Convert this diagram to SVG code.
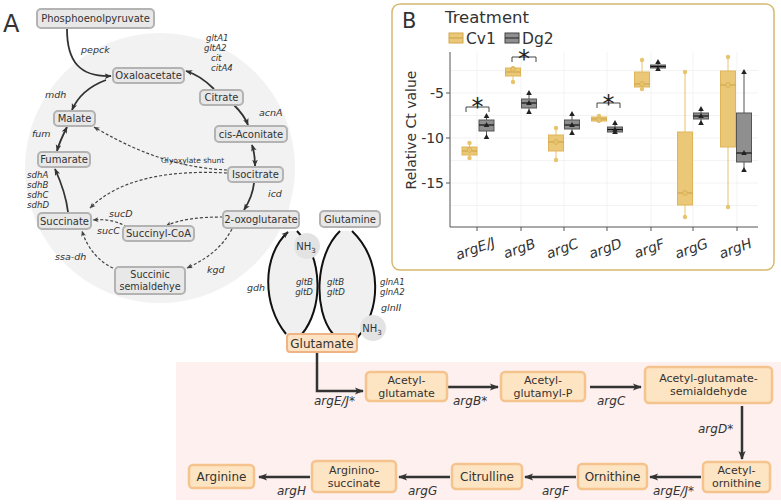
<svg xmlns="http://www.w3.org/2000/svg" width="781" height="504" viewBox="0 0 781 504">
<style>
text{font-family:"DejaVu Sans","Liberation Sans",sans-serif;fill:#333}
.gn rect{fill:#e8e8e8;stroke:#b3b3b3;stroke-width:2}
.gn text{font-size:10px;text-anchor:middle}
.on rect{fill:#fde4c2;stroke:#f5c48e;stroke-width:2.5}
.on text{font-size:12px;text-anchor:middle}
.on text.two{font-size:11px}
.lab{font-size:9.5px;font-style:italic}
.stk{font-size:8.6px;font-style:italic}
.plab{font-size:12px;font-style:italic}
.sol{fill:none;stroke:#333;stroke-width:1.8;marker-end:url(#ah)}
.dsh{fill:none;stroke:#444;stroke-width:1.2;stroke-dasharray:3 2;marker-end:url(#ahs)}
.arc{fill:none;stroke:#111;stroke-width:2}
.pw{fill:none;stroke:#333;stroke-width:2.5;marker-end:url(#ahl)}
.nh text{font-size:10px;text-anchor:middle}
.grid{stroke:#eeeeee;stroke-width:0.7}
.cvw{stroke:#e8c46c;stroke-width:1}
.cvb{fill:#eac878;stroke:#dfb55a;stroke-width:1}
.cvm{stroke:#c9a048;stroke-width:1}
.cvp{fill:#e8c46c}
.dgw{stroke:#555;stroke-width:1}
.dgb{fill:#8f8f8f;stroke:#555;stroke-width:1}
.dgm{stroke:#111;stroke-width:1.2}
.dgp{fill:#222}
.tick{font-size:14px;text-anchor:end}
.xl{font-size:14px;font-style:italic;text-anchor:middle}
.br{fill:none;stroke:#444;stroke-width:1}
.star{font-size:24px;text-anchor:middle;fill:#222}
</style>
<defs>
<marker id="ah" viewBox="0 0 10 10" refX="9" refY="5" markerWidth="7" markerHeight="7" orient="auto-start-reverse" markerUnits="userSpaceOnUse"><path d="M0,1 L10,5 L0,9 L2.5,5 z" fill="#333"/></marker>
<marker id="ahs" viewBox="0 0 10 10" refX="9" refY="5" markerWidth="6" markerHeight="6" orient="auto" markerUnits="userSpaceOnUse"><path d="M0,1 L10,5 L0,9 L2.5,5 z" fill="#444"/></marker>
<marker id="ahl" viewBox="0 0 10 10" refX="9" refY="5" markerWidth="10" markerHeight="9" orient="auto" markerUnits="userSpaceOnUse"><path d="M0,1 L10,5 L0,9 L2.5,5 z" fill="#333"/></marker>
<path id="tri" d="M0,-3 L2.8,2 L-2.8,2 z"/>
</defs>

<!-- Panel A background -->
<circle cx="160" cy="168" r="135" fill="#f2f2f2"/>
<rect x="176" y="362" width="605" height="138" fill="#fdf0ee"/>
<path d="M286,334 C262,305 262,255 288,231 L297,231 C325,260 322,310 302,334 Z" fill="#f0f0f0"/>
<path d="M333,334 C313,310 315,255 340,231 L352,231 C382,260 382,310 357,338 Z" fill="#f0f0f0"/>
<text x="3" y="32" font-size="24" fill="#111">A</text>

<g id="connectors">
<path class="sol" d="M67,29 C67,62 80,77 111,76"/>
<path class="sol" d="M106,80 C90,86 78,96 72,110"/>
<path class="sol" d="M214,89 C205,80 196,74 186,71"/>
<path class="sol" d="M234,105 C240,111 245,117 248,125"/>
<path class="sol" d="M252,145 C254,151 255,158 255,166" marker-start="url(#ah)"/>
<path class="sol" d="M254,183 C253,193 249,202 244,210"/>
<path class="sol" d="M57,151 C59,143 63,135 67,127" marker-start="url(#ah)"/>
<path class="sol" d="M68,212 C66,195 60,180 55,169"/>
<path class="dsh" d="M227,170 C190,168 150,160 94,127"/>
<path class="dsh" d="M227,173 C170,170 120,178 90,208"/>
<path class="dsh" d="M223,217 C200,217 180,219 166,226" marker-end="none"/>
<path class="dsh" d="M127,227 C115,220 105,219 93,220"/>
<path class="dsh" d="M232,229 C222,248 205,260 187,268"/>
<path class="dsh" d="M113,268 C100,262 88,250 82,231"/>
<path class="arc" d="M286,334 C262,305 262,255 288,232" marker-end="url(#ah)"/>
<path class="arc" d="M297,231 C325,260 322,310 302,334"/>
<path class="arc" d="M340,231 C315,255 313,310 333,334"/>
<path class="arc" d="M352,231 C382,260 382,310 357,338"/>
<path class="pw" d="M317,352 V391 H363"/>
<path class="pw" d="M447,387 H498"/>
<path class="pw" d="M590,387 H641"/>
<path class="pw" d="M742,406 V459"/>
<path class="pw" d="M701,477 H650"/>
<path class="pw" d="M576,477 H525"/>
<path class="pw" d="M450,477 H399"/>
<path class="pw" d="M310,477 H259"/>
</g>

<g id="nh3a" class="nh"><circle cx="307" cy="246" r="13" fill="#e3e3e3"/><text x="306" y="250">NH<tspan font-size="7" dy="3">3</tspan></text></g>
<g id="nh3b" class="nh"><circle cx="373" cy="328" r="13" fill="#e3e3e3"/><text x="372" y="332">NH<tspan font-size="7" dy="3">3</tspan></text></g>

<g id="pep" class="gn"><rect x="37" y="9" width="117" height="19" rx="4"/><text x="95.5" y="22.3">Phosphoenolpyruvate</text></g>
<g id="oaa" class="gn"><rect x="113" y="68" width="71" height="15" rx="4"/><text x="148.5" y="79.3">Oxaloacetate</text></g>
<g id="citrate" class="gn"><rect x="200" y="90" width="43" height="15" rx="4"/><text x="221.5" y="101.3">Citrate</text></g>
<g id="malate" class="gn"><rect x="54" y="111" width="41" height="15" rx="4"/><text x="74.5" y="122.3">Malate</text></g>
<g id="cisacon" class="gn"><rect x="215" y="126" width="72" height="16" rx="4"/><text x="251" y="137.8">cis-Aconitate</text></g>
<g id="fumarate" class="gn"><rect x="38" y="152" width="52" height="15" rx="4"/><text x="64" y="163.3">Fumarate</text></g>
<g id="isocitrate" class="gn"><rect x="228" y="167" width="55" height="15" rx="4"/><text x="255.5" y="178.3">Isocitrate</text></g>
<g id="succinate" class="gn"><rect x="38" y="213" width="53" height="16" rx="4"/><text x="64.5" y="224.8">Succinate</text></g>
<g id="succoa" class="gn"><rect x="123" y="226" width="71" height="15" rx="4"/><text x="158.5" y="237.3">Succinyl-CoA</text></g>
<g id="oxoglu" class="gn"><rect x="223" y="211" width="76" height="17" rx="4"/><text x="261" y="223.3">2-oxoglutarate</text></g>
<g id="ssa" class="gn"><rect x="115" y="267" width="70" height="27" rx="4"/><text style="font-size:9.6px"><tspan x="150" y="278.3">Succinic</tspan><tspan x="150" dy="11.3">semialdehye</tspan></text></g>
<g id="glutamine" class="gn"><rect x="320" y="211" width="60" height="16" rx="4"/><text x="350" y="222.8">Glutamine</text></g>
<g id="glutamate" class="on"><rect x="287" y="334" width="70" height="18" rx="3" style="fill:#fde2c4;stroke:#efb486;stroke-width:2"/><text x="322" y="347.5">Glutamate</text></g>

<g id="tca-labels">
<text class="lab" x="81" y="53">pepck</text>
<text class="stk"><tspan x="206" y="41">gltA1</tspan><tspan x="204" dy="10">gltA2</tspan><tspan x="211" dy="10">cit</tspan><tspan x="211" dy="10">citA4</tspan></text>
<text class="lab" x="45" y="98">mdh</text>
<text class="lab" x="32" y="137">fum</text>
<text class="lab" x="259" y="116">acnA</text>
<text class="stk"><tspan x="27" y="178">sdhA</tspan><tspan x="27" dy="10">sdhB</tspan><tspan x="27" dy="10">sdhC</tspan><tspan x="27" dy="10">sdhD</tspan></text>
<text x="161" y="163" font-size="7.5">Glyoxylate shunt</text>
<text class="lab" x="268" y="197">icd</text>
<text class="lab" x="109" y="217">sucD</text>
<text class="lab" x="97" y="234">sucC</text>
<text class="lab" x="55" y="260">ssa-dh</text>
<text class="lab" x="207" y="273">kgd</text>
<text class="lab" x="247" y="291">gdh</text>
<text class="stk" text-anchor="end"><tspan x="313" y="285">gltB</tspan><tspan x="313" dy="10">gltD</tspan></text>
<text class="stk"><tspan x="327" y="285">gltB</tspan><tspan x="327" dy="10">gltD</tspan></text>
<text class="stk"><tspan x="380" y="285">glnA1</tspan><tspan x="380" dy="10">glnA2</tspan></text>
<text class="lab" x="381" y="311">glnII</text>
</g>

<g id="acglu" class="on"><rect x="366" y="372" width="81" height="29" rx="4"/><text class="two"><tspan x="406.5" y="383.5">Acetyl-</tspan><tspan x="406.5" dy="13">glutamate</tspan></text></g>
<g id="acglup" class="on"><rect x="501" y="372" width="84" height="29" rx="4"/><text class="two"><tspan x="543" y="383.5">Acetyl-</tspan><tspan x="543" dy="13">glutamyl-P</tspan></text></g>
<g id="acglusa" class="on"><rect x="645" y="367" width="127" height="36" rx="4"/><text class="two"><tspan x="708.5" y="382">Acetyl-glutamate-</tspan><tspan x="708.5" dy="13">semialdehyde</tspan></text></g>
<g id="acorn" class="on"><rect x="703" y="462" width="67" height="30" rx="4"/><text class="two"><tspan x="736.5" y="474">Acetyl-</tspan><tspan x="736.5" dy="13">ornithine</tspan></text></g>
<g id="ornithine" class="on"><rect x="578" y="464" width="69" height="25" rx="4"/><text x="612.5" y="481">Ornithine</text></g>
<g id="citrulline" class="on"><rect x="452" y="464" width="70" height="25" rx="4"/><text x="487" y="481">Citrulline</text></g>
<g id="argsuc" class="on"><rect x="312" y="461" width="84" height="31" rx="4"/><text class="two"><tspan x="354" y="474">Arginino-</tspan><tspan x="354" dy="13">succinate</tspan></text></g>
<g id="arginine" class="on"><rect x="189" y="465" width="65" height="23" rx="4"/><text x="221.5" y="481">Arginine</text></g>

<g id="path-labels">
<text class="plab" x="314" y="405">argE/J*</text>
<text class="plab" x="453" y="405">argB*</text>
<text class="plab" x="597" y="405">argC</text>
<text class="plab" x="698" y="433">argD*</text>
<text class="plab" x="653" y="495">argE/J*</text>
<text class="plab" x="542" y="495">argF</text>
<text class="plab" x="408" y="495">argG</text>
<text class="plab" x="277" y="495">argH</text>
</g>

<!-- Panel B -->
<g id="chart">
<rect x="392" y="4" width="382" height="266" rx="8" fill="#fff" stroke="#d6b96f" stroke-width="1.5"/>
<text x="402" y="28" font-size="21" fill="#111">B</text>
<text x="445" y="23" font-size="16.5" fill="#111">Treatment</text>
<rect x="449" y="33" width="14" height="10" fill="#eac878" stroke="#d4a84a"/><line x1="449" y1="38" x2="463" y2="38" stroke="#c9a048"/>
<text x="466" y="43.5" font-size="15.5" fill="#111">Cv1</text>
<rect x="505" y="33" width="14" height="10" fill="#8f8f8f" stroke="#444"/><line x1="505" y1="38" x2="519" y2="38" stroke="#222"/>
<text x="522" y="43.5" font-size="15.5" fill="#111">Dg2</text>
<g class="grid">
<line x1="450" y1="70.5" x2="758" y2="70.5"/><line x1="450" y1="93" x2="758" y2="93"/><line x1="450" y1="115.5" x2="758" y2="115.5"/><line x1="450" y1="138" x2="758" y2="138"/><line x1="450" y1="160.5" x2="758" y2="160.5"/><line x1="450" y1="183" x2="758" y2="183"/><line x1="450" y1="205.5" x2="758" y2="205.5"/>
<line x1="477" y1="52" x2="477" y2="227"/><line x1="521" y1="52" x2="521" y2="227"/><line x1="564" y1="52" x2="564" y2="227"/><line x1="607" y1="52" x2="607" y2="227"/><line x1="651" y1="52" x2="651" y2="227"/><line x1="693" y1="52" x2="693" y2="227"/><line x1="737" y1="52" x2="737" y2="227"/>
</g>
<path d="M450,52 V227 H758" fill="none" stroke="#555" stroke-width="1"/>
<path d="M446,93 H450 M446,138 H450 M446,183 H450 M477,227 V231 M521,227 V231 M564,227 V231 M607,227 V231 M651,227 V231 M693,227 V231 M737,227 V231" stroke="#555" stroke-width="1"/>
<text class="tick" x="444" y="98">-5</text>
<text class="tick" x="444" y="143">-10</text>
<text class="tick" x="444" y="188">-15</text>
<text x="416" y="130" font-size="14" fill="#111" text-anchor="middle" transform="rotate(-90 416 130)">Relative Ct value</text>
<text class="xl" x="477" y="253" transform="rotate(-20 477 253)">argE/J</text>
<text class="xl" x="521" y="253" transform="rotate(-20 521 253)">argB</text>
<text class="xl" x="564" y="253" transform="rotate(-20 564 253)">argC</text>
<text class="xl" x="607" y="253" transform="rotate(-20 607 253)">argD</text>
<text class="xl" x="651" y="253" transform="rotate(-20 651 253)">argF</text>
<text class="xl" x="693" y="253" transform="rotate(-20 693 253)">argG</text>
<text class="xl" x="737" y="253" transform="rotate(-20 737 253)">argH</text>

<g id="cv1">
<line class="cvw" x1="469.5" y1="143" x2="469.5" y2="158"/><rect class="cvb" x="462" y="147" width="15" height="8"/><line class="cvm" x1="462" y1="151" x2="477" y2="151"/>
<circle class="cvp" cx="469.5" cy="143" r="2.2"/><circle class="cvp" cx="469.5" cy="158" r="2.2"/><circle class="cvp" cx="469.5" cy="150" r="2.4" stroke="#d9b25a"/>
<line class="cvw" x1="513" y1="66" x2="513" y2="82"/><rect class="cvb" x="505.5" y="68" width="15" height="8"/><line class="cvm" x1="505.5" y1="72" x2="520.5" y2="72"/>
<circle class="cvp" cx="513" cy="82" r="2.2"/><circle class="cvp" cx="513" cy="69" r="2.4" stroke="#d9b25a"/>
<line class="cvw" x1="556" y1="128" x2="556" y2="160"/><rect class="cvb" x="548.5" y="135" width="15" height="16"/><line class="cvm" x1="548.5" y1="142" x2="563.5" y2="142"/>
<circle class="cvp" cx="556" cy="128" r="2.2"/><circle class="cvp" cx="556" cy="160" r="2.2"/><circle class="cvp" cx="556" cy="142" r="2.4" stroke="#d9b25a"/>
<line class="cvw" x1="599" y1="115.5" x2="599" y2="122.5"/><rect class="cvb" x="591.5" y="117" width="15" height="4"/><line class="cvm" x1="591.5" y1="119" x2="606.5" y2="119"/>
<circle class="cvp" cx="599" cy="116" r="2.2"/><circle class="cvp" cx="599" cy="120" r="2.4" stroke="#d9b25a"/>
<line class="cvw" x1="642" y1="60" x2="642" y2="89"/><rect class="cvb" x="634.5" y="72" width="15" height="15"/><line class="cvm" x1="634.5" y1="84" x2="649.5" y2="84"/>
<circle class="cvp" cx="642" cy="60" r="2.2"/><circle class="cvp" cx="642" cy="89" r="2.2"/><circle class="cvp" cx="642" cy="84" r="2.4" stroke="#d9b25a"/>
<line class="cvw" x1="685" y1="72" x2="685" y2="217"/><rect class="cvb" x="677.5" y="132" width="15" height="73"/><line class="cvm" x1="677.5" y1="193" x2="692.5" y2="193"/>
<circle class="cvp" cx="685" cy="72" r="2.2"/><circle class="cvp" cx="685" cy="217" r="2.2"/><circle class="cvp" cx="685" cy="193" r="2.4" stroke="#d9b25a"/>
<line class="cvw" x1="728" y1="57" x2="728" y2="207"/><rect class="cvb" x="720.5" y="71" width="15" height="76"/><line class="cvm" x1="720.5" y1="85" x2="735.5" y2="85"/>
<circle class="cvp" cx="728" cy="57" r="2.2"/><circle class="cvp" cx="728" cy="207" r="2.2"/><circle class="cvp" cx="728" cy="85" r="2.4" stroke="#d9b25a"/>
</g>
<g id="dg2">
<line class="dgw" x1="486.5" y1="116" x2="486.5" y2="137"/><rect class="dgb" x="479" y="120" width="15" height="11"/><line class="dgm" x1="479" y1="125" x2="494" y2="125"/>
<use href="#tri" class="dgp" x="486.5" y="116"/><use href="#tri" class="dgp" x="486.5" y="137"/><use href="#tri" class="dgp" x="486.5" y="125"/>
<line class="dgw" x1="529" y1="93" x2="529" y2="112"/><rect class="dgb" x="521.5" y="99" width="15" height="9"/><line class="dgm" x1="521.5" y1="103" x2="536.5" y2="103"/>
<use href="#tri" class="dgp" x="529" y="93"/><use href="#tri" class="dgp" x="529" y="112"/><use href="#tri" class="dgp" x="529" y="103"/>
<line class="dgw" x1="572" y1="114" x2="572" y2="133"/><rect class="dgb" x="564.5" y="120" width="15" height="9"/><line class="dgm" x1="564.5" y1="125" x2="579.5" y2="125"/>
<use href="#tri" class="dgp" x="572" y="114"/><use href="#tri" class="dgp" x="572" y="133"/><use href="#tri" class="dgp" x="572" y="125"/>
<line class="dgw" x1="615" y1="123" x2="615" y2="133"/><rect class="dgb" x="607.5" y="127" width="15" height="5"/><line class="dgm" x1="607.5" y1="129.5" x2="622.5" y2="129.5"/>
<use href="#tri" class="dgp" x="615" y="123"/><use href="#tri" class="dgp" x="615" y="132"/><use href="#tri" class="dgp" x="615" y="129.5"/>
<line class="dgw" x1="658" y1="62" x2="658" y2="70"/><rect class="dgb" x="650.5" y="65" width="15" height="3"/><line class="dgm" x1="650.5" y1="66.5" x2="665.5" y2="66.5"/>
<use href="#tri" class="dgp" x="658" y="62"/><use href="#tri" class="dgp" x="658" y="69"/>
<line class="dgw" x1="701" y1="109" x2="701" y2="123"/><rect class="dgb" x="693.5" y="113" width="15" height="6"/><line class="dgm" x1="693.5" y1="116" x2="708.5" y2="116"/>
<use href="#tri" class="dgp" x="701" y="109"/><use href="#tri" class="dgp" x="701" y="123"/><use href="#tri" class="dgp" x="701" y="116"/>
<line class="dgw" x1="744" y1="72" x2="744" y2="170"/><rect class="dgb" x="736.5" y="113" width="15" height="49"/><line class="dgm" x1="736.5" y1="153" x2="751.5" y2="153"/>
<use href="#tri" class="dgp" x="744" y="72"/><use href="#tri" class="dgp" x="744" y="170"/><use href="#tri" class="dgp" x="744" y="153"/>
</g>
<path class="br" d="M466,112 V107 H489 V112"/><text class="star" x="477.5" y="114.5">*</text>
<path class="br" d="M512,62 V57 H536 V62"/><text class="star" x="524" y="66.5">*</text>
<path class="br" d="M597,108 V103 H620 V108"/><text class="star" x="608.5" y="111.5">*</text>
</g>
</svg>
